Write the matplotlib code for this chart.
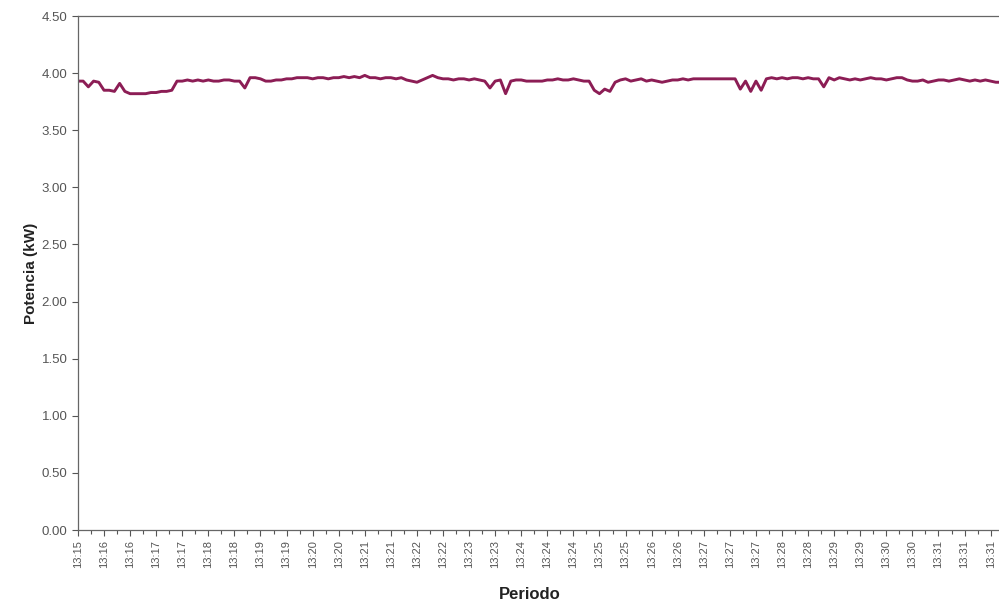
import matplotlib
matplotlib.use("Agg")
import matplotlib.pyplot as plt
import numpy as np

plt.rcParams['font.family'] = ['Liberation Sans', 'DejaVu Sans']

# potencia medida (kW), una muestra cada ~5.5 s
potencia = [
    3.93, 3.93, 3.88, 3.93, 3.92, 3.85, 3.85, 3.84, 3.91, 3.84,
    3.82, 3.82, 3.82, 3.82, 3.83, 3.83, 3.84, 3.84, 3.85, 3.93,
    3.93, 3.94, 3.93, 3.94, 3.93, 3.94, 3.93, 3.93, 3.94, 3.94,
    3.93, 3.93, 3.87, 3.96, 3.96, 3.95, 3.93, 3.93, 3.94, 3.94,
    3.95, 3.95, 3.96, 3.96, 3.96, 3.95, 3.96, 3.96, 3.95, 3.96,
    3.96, 3.97, 3.96, 3.97, 3.96, 3.98, 3.96, 3.96, 3.95, 3.96,
    3.96, 3.95, 3.96, 3.94, 3.93, 3.92, 3.94, 3.96, 3.98, 3.96,
    3.95, 3.95, 3.94, 3.95, 3.95, 3.94, 3.95, 3.94, 3.93, 3.87,
    3.93, 3.94, 3.82, 3.93, 3.94, 3.94, 3.93, 3.93, 3.93, 3.93,
    3.94, 3.94, 3.95, 3.94, 3.94, 3.95, 3.94, 3.93, 3.93, 3.85,
    3.82, 3.86, 3.84, 3.92, 3.94, 3.95, 3.93, 3.94, 3.95, 3.93,
    3.94, 3.93, 3.92, 3.93, 3.94, 3.94, 3.95, 3.94, 3.95, 3.95,
    3.95, 3.95, 3.95, 3.95, 3.95, 3.95, 3.95, 3.86, 3.93, 3.84,
    3.93, 3.85, 3.95, 3.96, 3.95, 3.96, 3.95, 3.96, 3.96, 3.95,
    3.96, 3.95, 3.95, 3.88, 3.96, 3.94, 3.96, 3.95, 3.94, 3.95,
    3.94, 3.95, 3.96, 3.95, 3.95, 3.94, 3.95, 3.96, 3.96, 3.94,
    3.93, 3.93, 3.94, 3.92, 3.93, 3.94, 3.94, 3.93, 3.94, 3.95,
    3.94, 3.93, 3.94, 3.93, 3.94, 3.93, 3.92, 3.92,
]

etiquetas = [
    "13:15", "13:16", "13:16", "13:17", "13:17", "13:18", "13:18", "13:19",
    "13:19", "13:20", "13:20", "13:21", "13:21", "13:22", "13:22", "13:23",
    "13:23", "13:24", "13:24", "13:24", "13:25", "13:25", "13:26", "13:26",
    "13:27", "13:27", "13:27", "13:28", "13:28", "13:29", "13:29", "13:30",
    "13:30", "13:31", "13:31", "13:31",
]
paso = 5  # muestras entre etiquetas

fig = plt.figure(figsize=(9.99, 6.04), dpi=100)
ax = fig.add_axes([0.078, 0.1225, 0.922, 0.851])

x = np.arange(len(potencia))
ax.plot(x, potencia, color='#8c1d55', linewidth=2.1, solid_joinstyle='round')

ax.set_xlim(0, 176.6)
ax.set_ylim(0, 4.5)

ax.set_yticks(np.arange(0, 4.51, 0.5))
ax.set_yticklabels([f"{v:.2f}" for v in np.arange(0, 4.51, 0.5)])

pos = np.arange(len(etiquetas)) * paso
ax.set_xticks(pos)
ax.set_xticklabels(etiquetas, rotation=90)
ax.set_xticks(pos[:-1] + paso / 2, minor=True)

gris = '#555555'
for s in ['left', 'bottom', 'top']:
    ax.spines[s].set_color('#666666')
    ax.spines[s].set_linewidth(0.9)
ax.spines['right'].set_visible(False)

ax.tick_params(axis='y', labelsize=9.5, colors=gris, length=4, width=0.8)
ax.tick_params(axis='x', which='major', labelsize=8, colors=gris, length=4, width=0.8, pad=3)
ax.tick_params(axis='x', which='minor', length=3, width=0.8, colors=gris)

ax.set_ylabel("Potencia (kW)", fontsize=11, fontweight='bold', color='#222222')
ax.yaxis.set_label_coords(-0.043, 0.5)
ax.set_xlabel("Periodo", fontsize=12, fontweight='bold', color='#222222')
ax.xaxis.set_label_coords(0.49, -0.11)

fig.savefig("out.png", dpi=100, facecolor='white')
